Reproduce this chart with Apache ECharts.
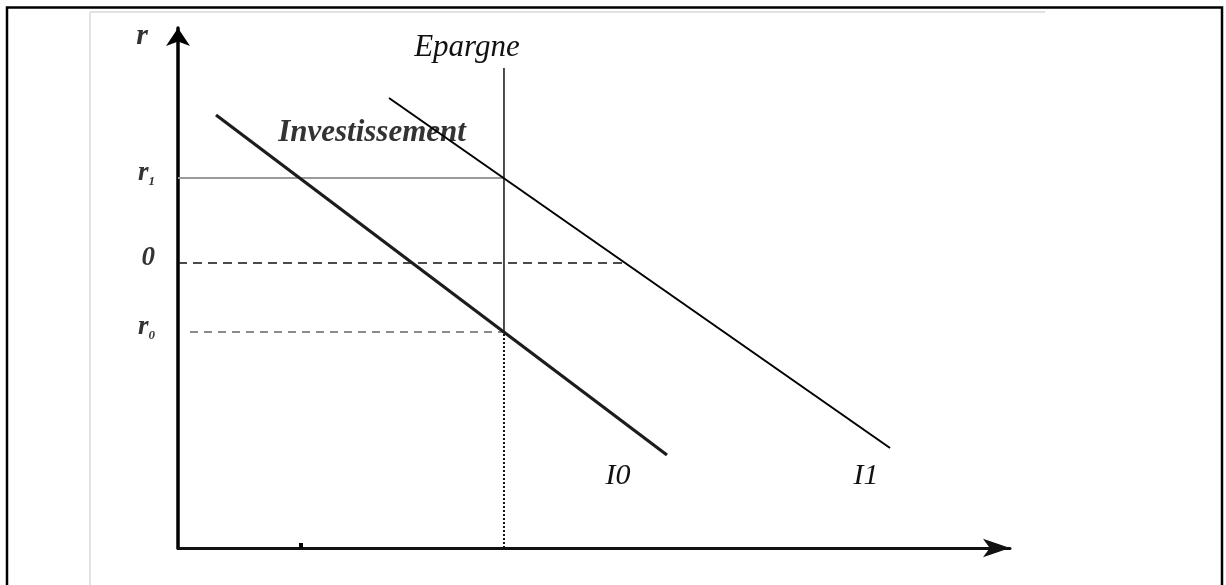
<!DOCTYPE html>
<html>
<head>
<meta charset="utf-8">
<title>Epargne / Investissement</title>
<script src="https://cdn.jsdelivr.net/npm/echarts@6/dist/echarts.min.js"></script>
<style>
  html, body { margin: 0; padding: 0; background: #fff; }
  #chart { width: 1226px; height: 585px; }
</style>
</head>
<body>
<div id="chart"></div>
<script>
// courbes d'investissement (deux points chacune)
const i0Line = [[4.57, 83.27], [58.77, 17.88]]
const i1Line = [[25.36, 86.54], [85.58, 19.23]]
// épargne verticale
const epargneX = 39.18
const epargneTop = 92.31
// niveaux de taux sur l'axe r
const rNames = ['r0', '0', 'r1']
const rValues = [41.54, 54.81, 71.15]
const zeroEndX = 53.73
const r0StartX = 1.44
const xTicks = [14.78]

const font = 'Liberation Serif, Times New Roman, serif'

const chart = echarts.init(document.getElementById('chart'))

const guide = (data, color, width, type) => ({
  type: 'line',
  data: data,
  symbol: 'none',
  silent: true,
  lineStyle: { color: color, width: width, type: type }
})

chart.setOption({
  animation: false,
  backgroundColor: '#fff',
  grid: { left: 178, top: 28, width: 832, height: 520 },
  xAxis: {
    type: 'value', min: 0, max: 100,
    splitLine: { show: false },
    axisLabel: { show: false },
    axisLine: {
      lineStyle: { color: '#111', width: 3 },
      symbol: ['none', 'arrow'],
      symbolSize: [14, 27]
    },
    axisTick: {
      show: true, inside: true, length: 5,
      customValues: xTicks,
      lineStyle: { color: '#000', width: 4 }
    }
  },
  yAxis: {
    type: 'value', min: 0, max: 100,
    splitLine: { show: false },
    axisTick: { show: false },
    axisLine: {
      onZero: false,
      lineStyle: { color: '#000', width: 3.5 },
      symbol: ['none', 'arrow'],
      symbolSize: [18, 18]
    },
    name: 'r',
    nameLocation: 'end',
    nameGap: -23,
    nameTextStyle: {
      fontFamily: font, fontStyle: 'italic', fontWeight: 'bold',
      fontSize: 30, color: '#333', align: 'right', padding: [0, 30, 0, 0]
    },
    axisLabel: {
      customValues: rValues,
      margin: 23,
      formatter: function (v) {
        const n = rNames[rValues.indexOf(v)]
        if (n === '0') return '{m|0}'
        return '{m|r}{s|' + n.slice(1) + '}'
      },
      rich: {
        m: { fontFamily: font, fontStyle: 'italic', fontWeight: 'bold', fontSize: 27, color: '#333', padding: [0, 0, 10, 0] },
        s: { fontFamily: font, fontStyle: 'italic', fontWeight: 'bold', fontSize: 13, color: '#333', padding: [8, 0, 0, 0] }
      }
    }
  },
  series: [
    // r1 : ligne pleine grise
    guide([[0, rValues[2]], [epargneX, rValues[2]]], '#9a9a9a', 2, 'solid'),
    // 0 : pointillés noirs
    guide([[0, rValues[1]], [zeroEndX, rValues[1]]], '#111', 1.5, [9, 6]),
    // r0 : pointillés gris
    guide([[r0StartX, rValues[0]], [epargneX, rValues[0]]], '#666', 1.5, [8, 6]),
    // épargne
    guide([[epargneX, rValues[0]], [epargneX, epargneTop]], '#111', 1.5, 'solid'),
    guide([[epargneX, 0], [epargneX, rValues[0]]], '#111', 2, [2, 2]),
    // investissement
    guide(i0Line, '#1c1c1c', 3.2, 'solid'),
    guide(i1Line, '#000', 2, 'solid'),
    {
      type: 'scatter',
      symbolSize: 0,
      silent: true,
      itemStyle: { opacity: 1 },
      label: {
        show: true, position: 'inside', formatter: '{b}',
        fontFamily: font, fontStyle: 'italic', fontSize: 30, color: '#111', opacity: 1
      },
      data: [
        { name: 'Epargne', value: [epargneX, epargneTop], label: { offset: [-37, -20], fontSize: 31 } },
        { name: 'Investissement', value: [23.32, 79.81], label: { fontWeight: 'bold', fontSize: 31, color: '#333' } },
        { name: 'I0', value: [52.88, 13.85] },
        { name: 'I1', value: [82.69, 13.85] }
      ]
    }
  ],
  graphic: [
    { type: 'line', silent: true, shape: { x1: 90, y1: 12, x2: 1045, y2: 12 }, style: { stroke: '#e2e2e2', lineWidth: 2 } },
    { type: 'line', silent: true, shape: { x1: 90, y1: 12, x2: 90, y2: 585 }, style: { stroke: '#e4e4e4', lineWidth: 2 } },
    { type: 'rect', silent: true, shape: { x: 7, y: 7.5, width: 1215, height: 700 }, style: { fill: 'none', stroke: '#000', lineWidth: 2.5 } }
  ]
})
</script>
</body>
</html>
